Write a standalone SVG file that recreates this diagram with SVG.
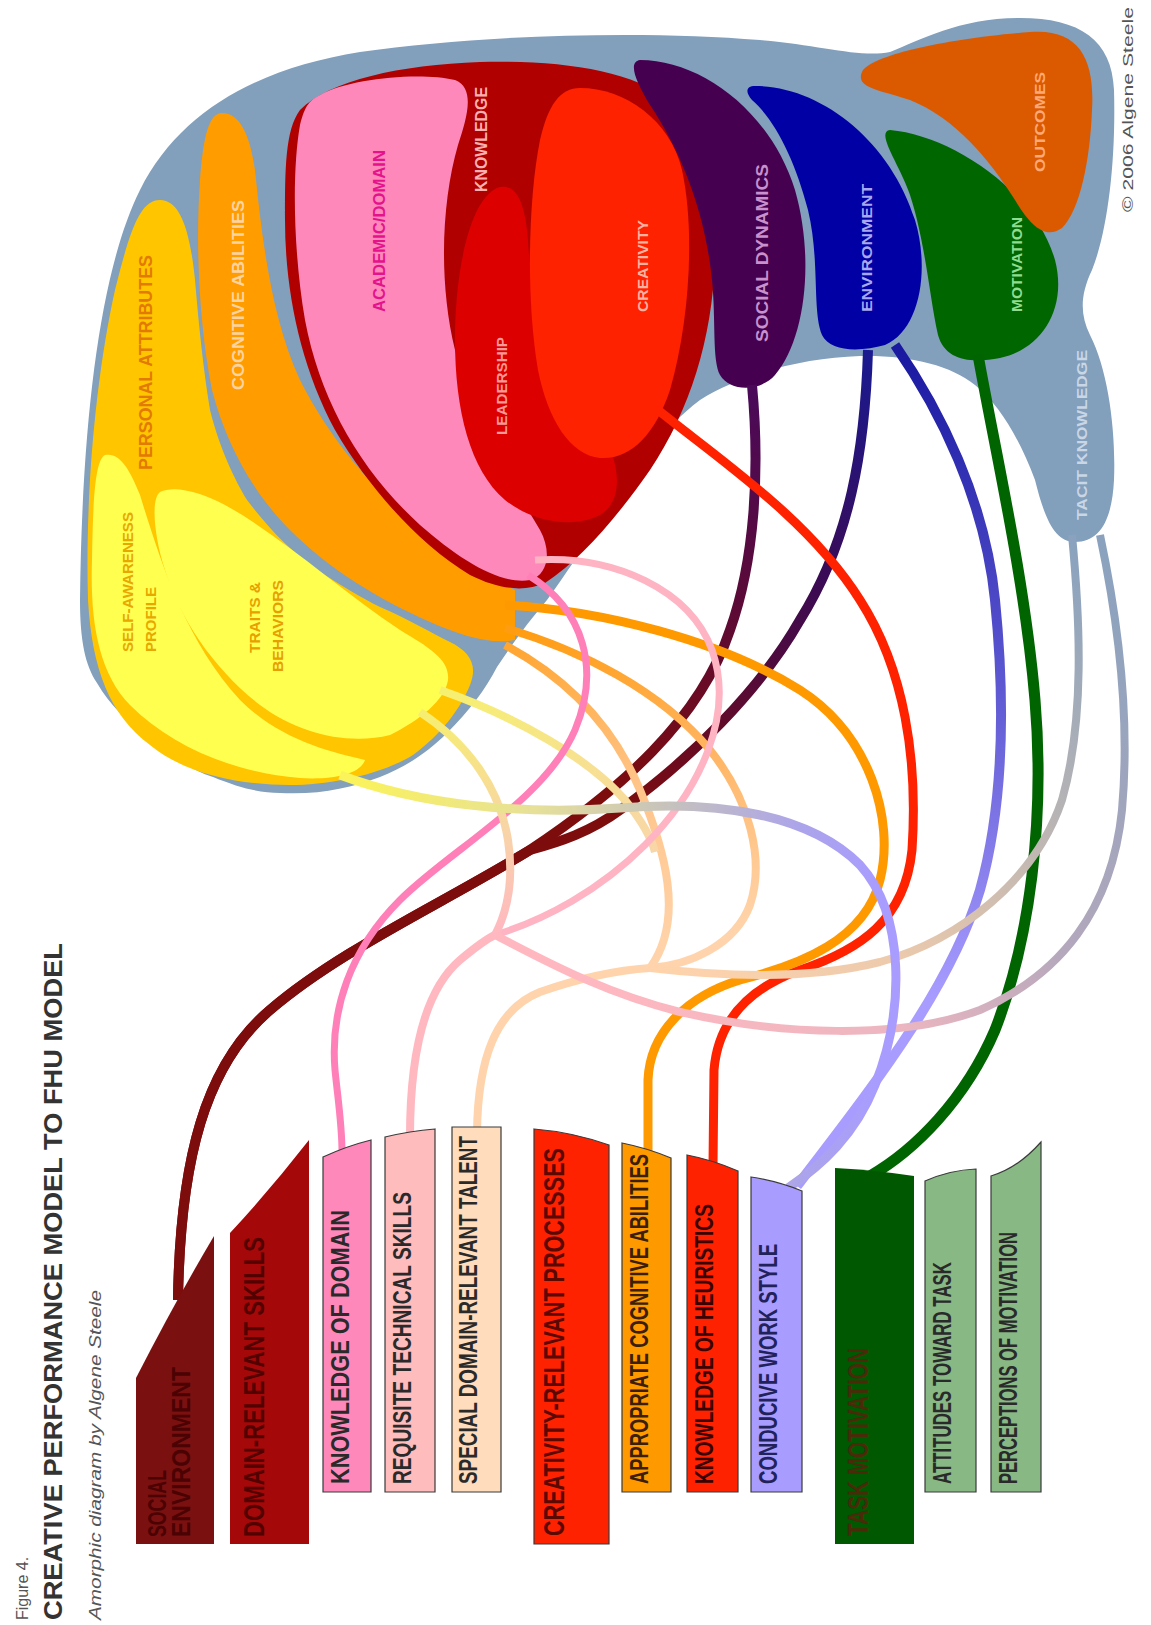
<svg xmlns="http://www.w3.org/2000/svg" width="1151" height="1625" viewBox="0 0 1151 1625">
  <defs>
    <style>
      .lbl { font-family: "Liberation Sans", "DejaVu Sans", sans-serif; font-weight: bold; }
      .bar { stroke: #3a3a3a; stroke-width: 1.2; }
      .bt { font-family: "Liberation Sans Narrow", "Liberation Sans", sans-serif; font-weight: bold; }
      .c { fill: none; stroke-linecap: butt; stroke-linejoin: round; }
    </style>
    <linearGradient id="gSocDyn" gradientUnits="userSpaceOnUse" x1="752" y1="385" x2="620" y2="800">
      <stop offset="0" stop-color="#4a0a5a"/>
      <stop offset="0.5" stop-color="#5c0a36"/>
      <stop offset="1" stop-color="#7d0c0c"/>
    </linearGradient>
    <linearGradient id="gEnvMaroon" gradientUnits="userSpaceOnUse" x1="868" y1="350" x2="620" y2="810">
      <stop offset="0" stop-color="#1a1a90"/>
      <stop offset="0.45" stop-color="#3c0a52"/>
      <stop offset="1" stop-color="#7d0c0c"/>
    </linearGradient>
    <linearGradient id="gEnvConducive" gradientUnits="userSpaceOnUse" x1="895" y1="345" x2="900" y2="1000">
      <stop offset="0" stop-color="#1818a0"/>
      <stop offset="0.5" stop-color="#5a55d0"/>
      <stop offset="1" stop-color="#a89cff"/>
    </linearGradient>
    <linearGradient id="gTacitSpecial" gradientUnits="userSpaceOnUse" x1="1070" y1="540" x2="650" y2="970">
      <stop offset="0" stop-color="#8aa2be"/>
      <stop offset="0.35" stop-color="#b8b4b4"/>
      <stop offset="0.7" stop-color="#eccaac"/>
      <stop offset="1" stop-color="#ffd4ac"/>
    </linearGradient>
    <linearGradient id="gTacitReq" gradientUnits="userSpaceOnUse" x1="1100" y1="540" x2="600" y2="1000">
      <stop offset="0" stop-color="#8aa2be"/>
      <stop offset="0.45" stop-color="#b4a8bc"/>
      <stop offset="0.7" stop-color="#ebb6c0"/>
      <stop offset="1" stop-color="#ffb8c0"/>
    </linearGradient>
    <linearGradient id="gTraitsReq" gradientUnits="userSpaceOnUse" x1="425" y1="715" x2="497" y2="933">
      <stop offset="0" stop-color="#f6ee70"/>
      <stop offset="0.6" stop-color="#f8d4a8"/>
      <stop offset="1" stop-color="#ffb8c0"/>
    </linearGradient>
    <linearGradient id="gSelfConducive" gradientUnits="userSpaceOnUse" x1="350" y1="0" x2="880" y2="0">
      <stop offset="0" stop-color="#fbf35a"/>
      <stop offset="0.35" stop-color="#e6e09a"/>
      <stop offset="0.6" stop-color="#c6c2bc"/>
      <stop offset="0.85" stop-color="#aca4ea"/>
      <stop offset="1" stop-color="#a89cff"/>
    </linearGradient>
    <linearGradient id="gCog2" gradientUnits="userSpaceOnUse" x1="510" y1="630" x2="650" y2="970">
      <stop offset="0" stop-color="#ff9c10"/>
      <stop offset="0.5" stop-color="#ffb460"/>
      <stop offset="1" stop-color="#ffd4ac"/>
    </linearGradient>
    <linearGradient id="gCog3" gradientUnits="userSpaceOnUse" x1="508" y1="645" x2="650" y2="970">
      <stop offset="0" stop-color="#ffa530"/>
      <stop offset="0.5" stop-color="#ffc488"/>
      <stop offset="1" stop-color="#ffd4ac"/>
    </linearGradient>
    <linearGradient id="gTraits1" gradientUnits="userSpaceOnUse" x1="447" y1="693" x2="657" y2="850">
      <stop offset="0" stop-color="#f6f070"/>
      <stop offset="1" stop-color="#f8d6a8"/>
    </linearGradient>
  </defs>

  <rect width="1151" height="1625" fill="#ffffff"/>

  <!-- FHU model: outer amorphic body -->
  <g id="fhu-body">
    <path fill="#829fbc" d="M 80,600 C 80,640 85,665 97,683 C 110,705 125,720 147,733 C 170,755 190,770 213,777 C 240,788 260,793 280,793 C 320,795 350,788 380,777 C 410,765 430,750 447,733 C 470,710 485,690 497,667 C 515,640 530,620 547,600 C 565,575 585,545 605,515 C 630,475 660,430 700,400 C 740,375 800,358 860,356 C 910,355 950,365 975,385 C 1000,405 1020,440 1035,480 C 1045,520 1055,542 1075,542 C 1100,542 1112,520 1114,480 C 1116,430 1108,370 1090,335 C 1080,315 1080,295 1092,270 C 1108,230 1116,160 1114,90 C 1112,40 1080,18 1020,18 C 960,18 920,40 890,52 C 860,58 820,45 760,40 C 640,30 480,35 360,52 C 260,68 180,110 140,190 C 100,270 82,420 80,600 Z"/>
  </g>

  <g id="personal-attributes">
    <path fill="#ffc600" d="M 160,200 C 180,200 190,230 195,280 C 200,340 205,380 210,410 C 220,450 235,480 247,500 C 270,530 290,550 313,567 C 340,585 360,597 380,607 C 410,620 430,632 450,642 C 470,652 478,665 470,685 C 460,710 440,735 413,755 C 380,775 330,785 290,785 C 230,785 180,770 150,745 C 110,715 92,670 88,600 C 85,500 95,380 115,290 C 130,230 140,200 160,200 Z"/>
    <text class="lbl" transform="translate(152,470) rotate(-90)" font-size="18" fill="#e37a00" textLength="215" lengthAdjust="spacingAndGlyphs">PERSONAL ATTRIBUTES</text>
  </g>

  <g id="self-awareness-profile">
    <path fill="#ffff50" d="M 105,455 C 120,452 130,470 140,495 C 160,560 185,640 240,700 C 280,740 330,752 365,760 C 360,775 330,780 300,778 C 230,772 170,745 130,705 C 98,672 90,620 92,560 C 93,500 95,460 105,455 Z"/>
    <text class="lbl" transform="translate(133,652) rotate(-90)" font-size="14" fill="#e8a800" textLength="140" lengthAdjust="spacingAndGlyphs">SELF-AWARENESS</text>
    <text class="lbl" transform="translate(156,652) rotate(-90)" font-size="14" fill="#e8a800" textLength="65" lengthAdjust="spacingAndGlyphs">PROFILE</text>
  </g>

  <g id="traits-behaviors">
    <path fill="#ffff50" d="M 160,492 C 175,485 200,492 225,505 C 280,535 340,590 400,630 C 430,648 450,660 448,680 C 445,700 420,720 390,735 C 350,745 300,735 260,705 C 215,670 180,620 165,570 C 155,540 150,500 160,492 Z"/>
    <text class="lbl" transform="translate(260,653) rotate(-90)" font-size="15" fill="#e8a000" textLength="71" lengthAdjust="spacingAndGlyphs">TRAITS &amp;</text>
    <text class="lbl" transform="translate(283,672) rotate(-90)" font-size="15" fill="#e8a000" textLength="92" lengthAdjust="spacingAndGlyphs">BEHAVIORS</text>
  </g>

  <g id="cognitive-abilities">
    <path fill="#ff9c00" d="M 222,113 C 240,113 250,135 255,170 C 262,240 272,320 300,380 C 330,440 380,500 440,545 C 470,565 495,580 515,590 L 515,640 C 490,645 460,635 430,622 C 380,600 330,570 290,530 C 250,490 225,440 212,390 C 200,330 195,250 200,180 C 203,140 208,113 222,113 Z"/>
    <text class="lbl" transform="translate(244,390) rotate(-90)" font-size="17" fill="#ffd4a0" textLength="190" lengthAdjust="spacingAndGlyphs">COGNITIVE ABILITIES</text>
  </g>

  <g id="knowledge">
    <path fill="#b00000" d="M 300,110 C 330,80 400,65 480,62 C 560,60 630,70 670,100 C 705,130 718,190 715,260 C 712,340 690,410 650,470 C 615,520 580,560 545,583 C 525,592 500,590 470,575 C 420,545 370,490 335,430 C 300,365 285,290 285,220 C 285,170 285,130 300,110 Z"/>
    <text class="lbl" transform="translate(487,192) rotate(-90)" font-size="16" fill="#ffb0b0" textLength="105" lengthAdjust="spacingAndGlyphs">KNOWLEDGE</text>
  </g>

  <g id="academic-domain">
    <path fill="#ff88bb" d="M 320,95 C 350,78 420,72 455,80 C 475,88 468,115 458,145 C 442,200 438,280 455,350 C 475,425 510,480 540,530 C 552,552 548,575 530,580 C 500,585 460,560 420,525 C 360,470 320,400 305,320 C 293,250 292,170 300,125 C 305,105 310,100 320,95 Z"/>
    <text class="lbl" transform="translate(385,312) rotate(-90)" font-size="16" fill="#e4138c" textLength="162" lengthAdjust="spacingAndGlyphs">ACADEMIC/DOMAIN</text>
  </g>

  <g id="leadership">
    <path fill="#dd0000" d="M 497,188 C 515,182 525,200 528,240 C 530,300 560,380 600,430 C 620,460 625,500 600,515 C 570,530 530,520 505,500 C 470,470 455,410 455,340 C 455,270 470,200 497,188 Z"/>
    <text class="lbl" transform="translate(507,435) rotate(-90)" font-size="14" fill="#ff9898" textLength="98" lengthAdjust="spacingAndGlyphs">LEADERSHIP</text>
  </g>

  <g id="creativity">
    <path fill="#ff2200" d="M 580,88 C 625,88 670,120 682,170 C 695,230 690,320 670,390 C 655,435 630,460 600,458 C 570,455 548,420 538,370 C 526,300 528,200 540,140 C 548,105 560,88 580,88 Z"/>
    <text class="lbl" transform="translate(648,312) rotate(-90)" font-size="14" fill="#ffb2a0" textLength="92" lengthAdjust="spacingAndGlyphs">CREATIVITY</text>
  </g>

  <g id="social-dynamics">
    <path fill="#45004f" d="M 640,60 C 700,60 770,110 795,190 C 815,260 805,340 775,375 C 760,392 730,392 720,375 C 712,360 716,320 712,280 C 705,210 680,150 650,105 C 635,80 628,62 640,60 Z"/>
    <text class="lbl" transform="translate(768,342) rotate(-90)" font-size="17" fill="#c890cc" textLength="178" lengthAdjust="spacingAndGlyphs">SOCIAL DYNAMICS</text>
  </g>

  <g id="environment">
    <path fill="#0000a5" d="M 755,86 C 820,86 890,140 915,220 C 930,270 920,330 885,345 C 860,352 830,352 822,335 C 812,310 820,260 808,210 C 795,160 775,120 752,100 C 745,92 746,86 755,86 Z"/>
    <text class="lbl" transform="translate(872,312) rotate(-90)" font-size="15" fill="#a8a8f0" textLength="128" lengthAdjust="spacingAndGlyphs">ENVIRONMENT</text>
  </g>

  <g id="motivation">
    <path fill="#006600" d="M 890,130 C 950,135 1035,190 1055,260 C 1068,310 1040,350 1000,358 C 970,364 945,360 938,335 C 930,300 925,240 910,195 C 900,165 875,132 890,130 Z"/>
    <text class="lbl" transform="translate(1022,312) rotate(-90)" font-size="15" fill="#90dc90" textLength="95" lengthAdjust="spacingAndGlyphs">MOTIVATION</text>
  </g>

  <g id="outcomes">
    <path fill="#db5a00" d="M 862,72 C 870,55 950,38 1030,32 C 1080,28 1095,60 1092,110 C 1090,160 1080,210 1062,228 C 1045,240 1030,225 1015,200 C 990,160 955,118 910,100 C 880,90 855,88 862,72 Z"/>
    <text class="lbl" transform="translate(1045,172) rotate(-90)" font-size="15" fill="#ffa878" textLength="100" lengthAdjust="spacingAndGlyphs">OUTCOMES</text>
  </g>

  <g id="tacit-knowledge">
    <text class="lbl" transform="translate(1087,520) rotate(-90)" font-size="15" fill="#c8d6e6" textLength="170" lengthAdjust="spacingAndGlyphs">TACIT KNOWLEDGE</text>
  </g>

  <!-- connectors between the FHU body and the creative performance factors -->
  <g id="connectors">
    <path class="c" stroke="url(#gSocDyn)" stroke-width="10" d="M 752,385 C 760,470 755,560 730,630 C 700,720 620,790 530,850 C 440,905 340,950 270,1010 C 205,1065 180,1160 178,1300"/>
    <path class="c" stroke="url(#gEnvMaroon)" stroke-width="10" d="M 868,350 C 865,450 850,540 800,620 C 760,690 690,760 620,810 C 590,832 560,842 530,850 C 440,905 340,950 270,1010 C 205,1065 180,1160 178,1300"/>
    <path class="c" stroke="url(#gEnvConducive)" stroke-width="10" d="M 895,345 C 940,410 985,500 995,600 C 1005,700 1005,800 980,890 C 950,990 870,1090 797,1186"/>
    <path class="c" stroke="#006400" stroke-width="11" d="M 978,355 C 995,450 1025,580 1035,700 C 1045,820 1030,940 995,1030 C 965,1100 915,1150 870,1176"/>
    <path class="c" stroke="#ff2200" stroke-width="9" d="M 658,410 C 720,460 810,520 860,600 C 905,670 918,760 912,850 C 905,920 860,950 800,970 C 750,988 718,1020 714,1070 L 713,1165"/>
    <path class="c" stroke="#ff9900" stroke-width="9" d="M 505,605 C 600,610 720,640 800,690 C 870,735 895,820 880,880 C 865,940 800,965 740,980 C 690,995 650,1030 648,1080 L 648,1152"/>
    <path class="c" stroke="url(#gCog2)" stroke-width="8" d="M 505,628 C 580,650 660,690 710,750 C 750,800 765,860 750,905 C 735,945 690,965 650,968"/>
    <path class="c" stroke="url(#gCog3)" stroke-width="8" d="M 505,645 C 570,680 615,730 640,790 C 665,850 685,920 650,968"/>
    <path class="c" stroke="url(#gTraits1)" stroke-width="8" d="M 440,690 C 520,718 590,760 625,800 C 645,825 652,840 655,852"/>
    <path class="c" stroke="#ffd4ac" stroke-width="8" d="M 477,1132 C 478,1060 495,1010 540,992 C 580,978 620,970 650,968"/>
    <path class="c" stroke="url(#gTacitSpecial)" stroke-width="8" d="M 1072,535 C 1080,620 1085,720 1062,800 C 1035,880 960,940 880,962 C 800,982 710,975 650,968"/>
    <path class="c" stroke="#ff80b8" stroke-width="7" d="M 528,575 C 585,610 600,670 575,730 C 545,800 450,850 400,900 C 350,950 330,1010 335,1070 C 338,1100 342,1125 342,1152"/>
    <path class="c" stroke="#ffb4c4" stroke-width="7" d="M 535,560 C 615,555 690,590 712,650 C 735,715 700,790 645,845 C 600,890 545,920 495,935"/>
    <path class="c" stroke="#ffb8c0" stroke-width="8" d="M 410,1137 C 410,1050 425,990 460,960 C 472,950 484,940 495,935"/>
    <path class="c" stroke="url(#gTacitReq)" stroke-width="8" d="M 1100,535 C 1118,620 1130,720 1122,810 C 1112,910 1060,975 980,1010 C 900,1040 780,1035 680,1012 C 600,992 540,958 495,935"/>
    <path class="c" stroke="url(#gTraitsReq)" stroke-width="8" d="M 420,712 C 470,745 500,790 508,840 C 514,880 508,910 495,935"/>
    <path class="c" stroke="url(#gSelfConducive)" stroke-width="9" d="M 340,775 C 420,805 520,815 620,808 C 720,800 810,815 860,865 C 905,915 905,1010 875,1085 C 855,1135 822,1165 788,1188"/>
  </g>

  <!-- creative performance factors -->
  <g id="social-environment">
    <path fill="#7a1010" d="M 136,1544 L 136,1378 Q 176,1300 214,1236 L 214,1544 Z"/>
    <text class="bt" transform="translate(166,1537) rotate(-90)" font-size="25" fill="#4a0202" textLength="67" lengthAdjust="spacingAndGlyphs">SOCIAL</text>
    <text class="bt" transform="translate(190,1537) rotate(-90)" font-size="25" fill="#4a0202" textLength="170" lengthAdjust="spacingAndGlyphs">ENVIRONMENT</text>
  </g>
  <g id="domain-relevant-skills">
    <path fill="#a50808" d="M 230,1544 L 230,1233 Q 270,1190 309,1140 L 309,1544 Z"/>
    <text class="bt" transform="translate(264,1537) rotate(-90)" font-size="30" fill="#520000" textLength="300" lengthAdjust="spacingAndGlyphs">DOMAIN-RELEVANT SKILLS</text>
  </g>
  <g id="knowledge-of-domain">
    <path class="bar" fill="#ff88bb" d="M 323,1492 L 323,1157 Q 347,1146 371,1140 L 371,1492 Z"/>
    <text class="bt" transform="translate(349,1484) rotate(-90)" font-size="26" fill="#2a2a2a" textLength="274" lengthAdjust="spacingAndGlyphs">KNOWLEDGE OF DOMAIN</text>
  </g>
  <g id="requisite-technical-skills">
    <path class="bar" fill="#ffbcbc" d="M 385,1492 L 385,1137 Q 410,1131 435,1129 L 435,1492 Z"/>
    <text class="bt" transform="translate(411,1484) rotate(-90)" font-size="26" fill="#2a2a2a" textLength="292" lengthAdjust="spacingAndGlyphs">REQUISITE TECHNICAL SKILLS</text>
  </g>
  <g id="special-domain-relevant-talent">
    <path class="bar" fill="#ffdcbc" d="M 452,1492 L 452,1127 L 501,1127 L 501,1492 Z"/>
    <text class="bt" transform="translate(477,1484) rotate(-90)" font-size="26" fill="#2a2a2a" textLength="348" lengthAdjust="spacingAndGlyphs">SPECIAL DOMAIN-RELEVANT TALENT</text>
  </g>
  <g id="creativity-relevant-processes">
    <path class="bar" fill="#ff2200" d="M 534,1544 L 534,1129 Q 572,1132 609,1145 L 609,1544 Z"/>
    <text class="bt" transform="translate(564,1536) rotate(-90)" font-size="30" fill="#5a0800" textLength="388" lengthAdjust="spacingAndGlyphs">CREATIVITY-RELEVANT PROCESSES</text>
  </g>
  <g id="appropriate-cognitive-abilities">
    <path class="bar" fill="#ff9900" d="M 622,1492 L 622,1143 Q 647,1148 671,1158 L 671,1492 Z"/>
    <text class="bt" transform="translate(648,1484) rotate(-90)" font-size="26" fill="#3a2000" textLength="330" lengthAdjust="spacingAndGlyphs">APPROPRIATE COGNITIVE ABILITIES</text>
  </g>
  <g id="knowledge-of-heuristics">
    <path class="bar" fill="#ff2200" d="M 687,1492 L 687,1155 Q 713,1160 738,1171 L 738,1492 Z"/>
    <text class="bt" transform="translate(713,1484) rotate(-90)" font-size="26" fill="#3a0000" textLength="280" lengthAdjust="spacingAndGlyphs">KNOWLEDGE OF HEURISTICS</text>
  </g>
  <g id="conducive-work-style">
    <path class="bar" fill="#a99cff" d="M 751,1492 L 751,1177 Q 777,1181 802,1191 L 802,1492 Z"/>
    <text class="bt" transform="translate(777,1484) rotate(-90)" font-size="26" fill="#22225a" textLength="240" lengthAdjust="spacingAndGlyphs">CONDUCIVE WORK STYLE</text>
  </g>
  <g id="task-motivation">
    <path fill="#005800" d="M 835,1544 L 835,1168 Q 875,1170 914,1176 L 914,1544 Z"/>
    <text class="bt" transform="translate(868,1536) rotate(-90)" font-size="30" fill="#4a2a08" textLength="188" lengthAdjust="spacingAndGlyphs">TASK MOTIVATION</text>
  </g>
  <g id="attitudes-toward-task">
    <path class="bar" fill="#88b884" d="M 925,1492 L 925,1181 Q 950,1170 976,1169 L 976,1492 Z"/>
    <text class="bt" transform="translate(951,1484) rotate(-90)" font-size="26" fill="#2a2a2a" textLength="222" lengthAdjust="spacingAndGlyphs">ATTITUDES TOWARD TASK</text>
  </g>
  <g id="perceptions-of-motivation">
    <path class="bar" fill="#88b884" d="M 991,1492 L 991,1176 Q 1018,1168 1041,1142 L 1041,1492 Z"/>
    <text class="bt" transform="translate(1017,1484) rotate(-90)" font-size="26" fill="#2a2a2a" textLength="252" lengthAdjust="spacingAndGlyphs">PERCEPTIONS OF MOTIVATION</text>
  </g>

  <!-- caption -->
  <g id="caption">
    <text transform="translate(28,1620) rotate(-90)" font-family="Liberation Sans, sans-serif" font-size="16" fill="#555555">Figure 4.</text>
    <text transform="translate(62,1620) rotate(-90)" font-family="Liberation Sans, sans-serif" font-weight="bold" font-size="26" fill="#333333" textLength="677" lengthAdjust="spacingAndGlyphs">CREATIVE PERFORMANCE MODEL TO FHU MODEL</text>
    <text transform="translate(101,1620) rotate(-90)" font-family="Liberation Sans, sans-serif" font-style="italic" font-size="17" fill="#555555" textLength="330" lengthAdjust="spacingAndGlyphs">Amorphic diagram by Algene Steele</text>
    <text transform="translate(1133,212) rotate(-90)" font-family="Liberation Sans, sans-serif" font-size="15" fill="#555555" textLength="205" lengthAdjust="spacingAndGlyphs">© 2006 Algene Steele</text>
  </g>
</svg>
